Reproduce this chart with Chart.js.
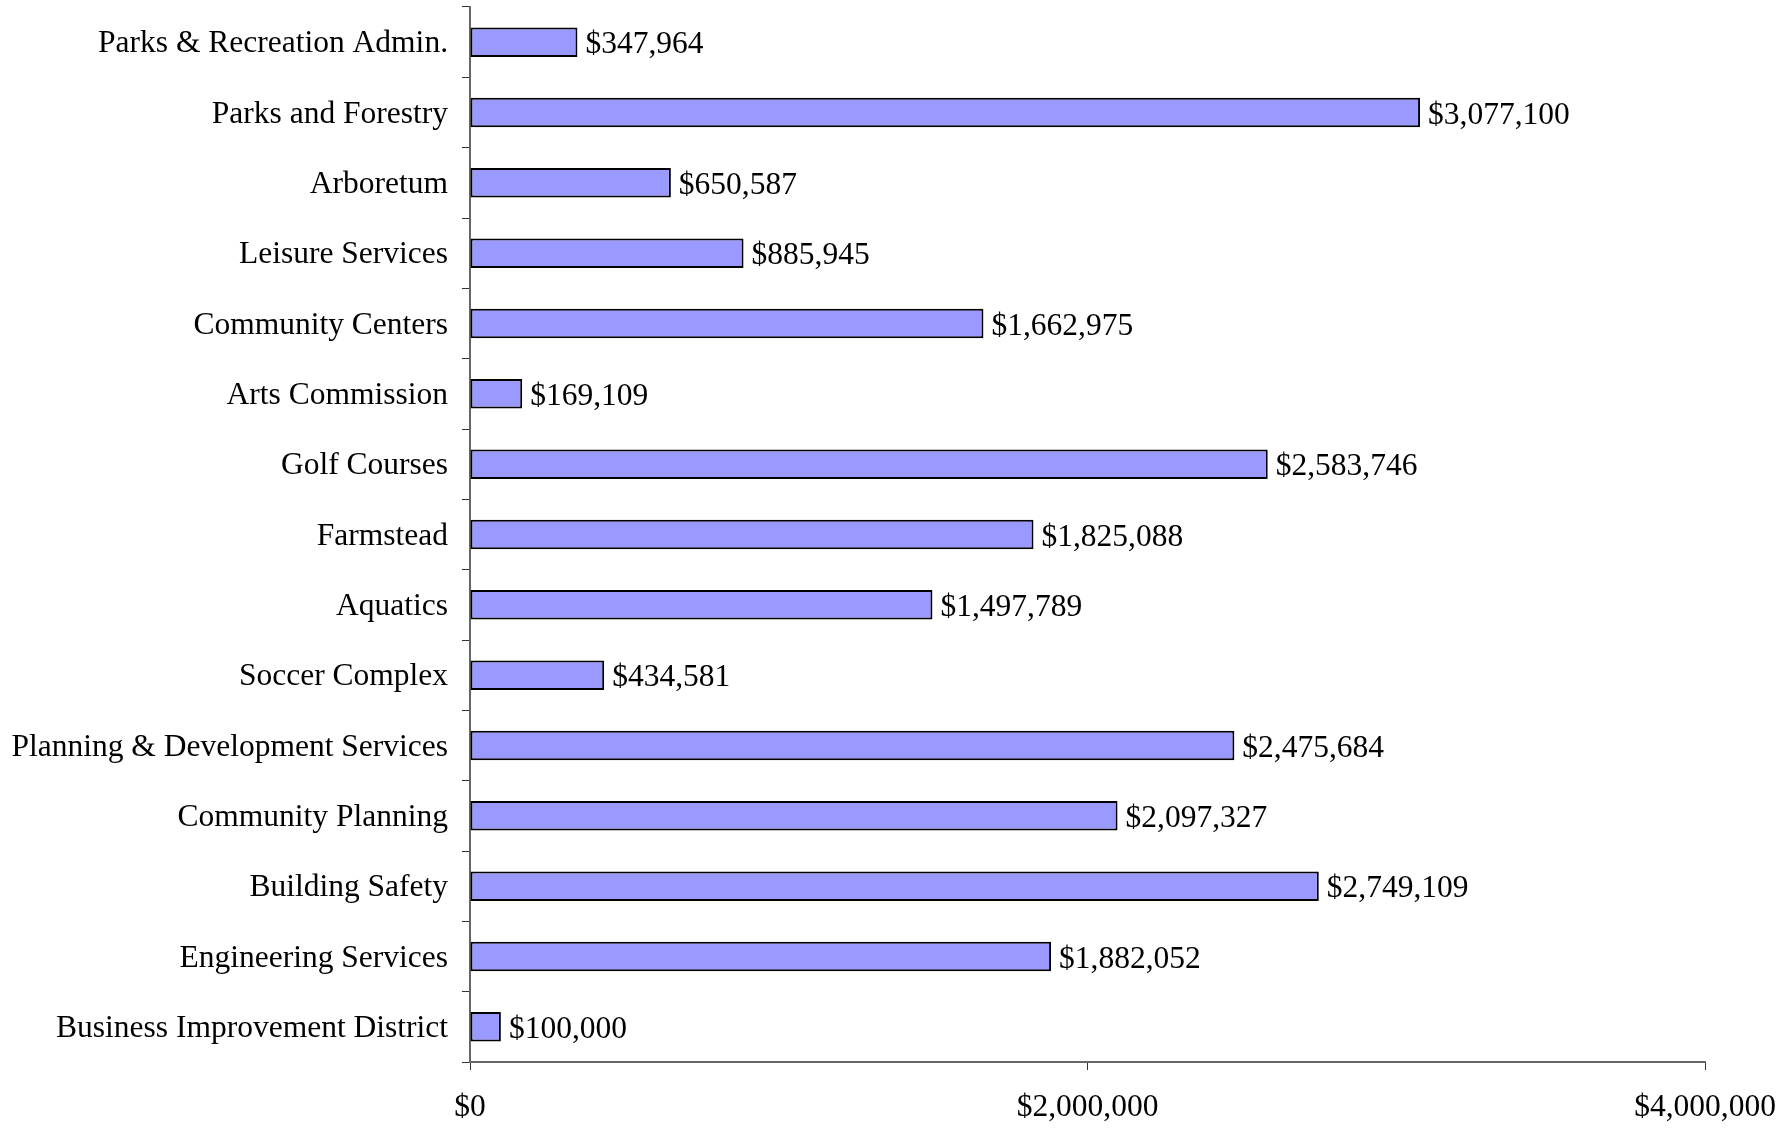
<!DOCTYPE html>
<html>
<head>
<meta charset="utf-8">
<script src="https://cdn.jsdelivr.net/npm/chart.js@4"></script>
<style>
    body { margin: 0; background: #fff; }
    #wrap { width: 1792px; height: 1128px; }
</style>
</head>
<body>
<div id="wrap"><canvas id="chart1"></canvas></div>
<script>

const categories = [
    'Parks & Recreation Admin.',
    'Parks and Forestry',
    'Arboretum',
    'Leisure Services',
    'Community Centers',
    'Arts Commission',
    'Golf Courses',
    'Farmstead',
    'Aquatics',
    'Soccer Complex',
    'Planning & Development Services',
    'Community Planning',
    'Building Safety',
    'Engineering Services',
    'Business Improvement District'
];

const budget = [347964, 3077100, 650587, 885945, 1662975, 169109, 2583746, 1825088, 1497789, 434581, 2475684, 2097327, 2749109, 1882052, 100000];

const xTicks = [0, 2000000, 4000000];

const serif = '"Liberation Serif", "Times New Roman", serif';
const fontSize = 31.5;

function money(v) {
    return '$' + Number(v).toLocaleString('en-US');
}

// draws "$123,456" to the right of each bar
const valueLabels = {
    id: 'valueLabels',
    afterDatasetsDraw: function(chart) {
        const ctx = chart.ctx;
        const meta = chart.getDatasetMeta(0);
        ctx.save();
        ctx.font = fontSize + 'px ' + serif;
        ctx.fillStyle = '#000';
        ctx.textAlign = 'left';
        ctx.textBaseline = 'middle';
        meta.data.forEach(function(bar, i) {
            ctx.fillText(money(budget[i]), bar.x + 8, bar.y + 3);
        });
        ctx.restore();
    }
};

const chart1 = new Chart(document.getElementById('chart1'), {
    type: 'bar',
    data: {
        labels: categories,
        datasets: [{
            data: budget,
            backgroundColor: '#9999FF',
            borderColor: '#000',
            borderWidth: 2,
            borderSkipped: false,
            barPercentage: 0.42,
            categoryPercentage: 1
        }]
    },
    options: {
        indexAxis: 'y',
        responsive: true,
        maintainAspectRatio: false,
        animation: false,
        layout: { padding: { top: 7, right: 87, left: 0, bottom: 0 } },
        plugins: {
            legend: { display: false },
            tooltip: { enabled: false }
        },
        scales: {
            x: {
                min: 0,
                max: 4000000,
                afterBuildTicks: function(scale) {
                    scale.ticks = xTicks.map(function(v) { return { value: v }; });
                },
                afterFit: function(scale) {
                    scale.height = 66;
                    scale.paddingLeft = 0;
                    scale.paddingRight = 0;
                },
                border: { display: true, color: '#666', width: 2 },
                grid: { drawOnChartArea: false, drawTicks: true, tickLength: 8, color: '#333' },
                ticks: {
                    color: '#000',
                    padding: 19,
                    maxRotation: 0,
                    font: { family: serif, size: fontSize },
                    callback: function(v) { return money(v); }
                }
            },
            y: {
                afterFit: function(scale) {
                    scale.width = 470;
                    scale.paddingTop = 0;
                    scale.paddingBottom = 0;
                },
                border: { display: true, color: '#666', width: 2 },
                grid: { drawOnChartArea: false, drawTicks: true, tickLength: 8, color: '#333', offset: true },
                ticks: {
                    color: '#000',
                    padding: 14,
                    labelOffset: 2,
                    autoSkip: false,
                    font: { family: serif, size: fontSize }
                }
            }
        }
    },
    plugins: [valueLabels]
});

</script>
</body>
</html>
